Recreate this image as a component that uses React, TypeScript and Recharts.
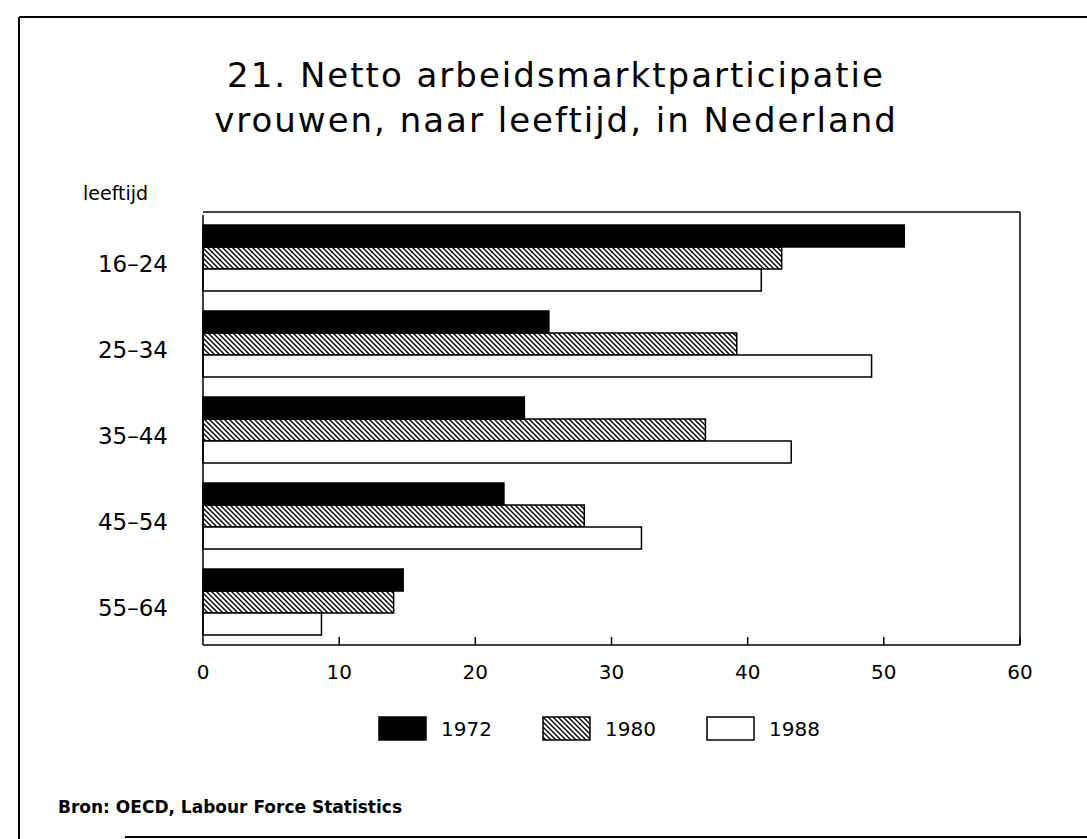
import React from 'react';
import { BarChart, Bar, XAxis, YAxis, Legend } from 'recharts';

const ageGroups = ['16–24', '25–34', '35–44', '45–54', '55–64'];
const years = ['1972', '1980', '1988'];
const values1972 = [51.5, 25.4, 23.6, 22.1, 14.7];
const values1980 = [42.5, 39.2, 36.9, 28.0, 14.0];
const values1988 = [41.0, 49.1, 43.2, 32.2, 8.7];
const xTicks = [0, 10, 20, 30, 40, 50, 60];

const chartData = ageGroups.map((age, i) => ({
  age,
  y1972: values1972[i],
  y1980: values1980[i],
  y1988: values1988[i],
}));

const FONT = '"DejaVu Sans", sans-serif';
const fills = ['#000', 'url(#hatch)', '#fff'];

const AgeTick = (props: any) => {
  const { x, y, payload } = props;
  return (
    <text x={x - 35} y={y + 14} textAnchor="end" fontFamily={FONT} fontSize={23} fill="#000">
      {payload.value}
    </text>
  );
};

const ValueTick = (props: any) => {
  const { x, y, payload } = props;
  return (
    <g>
      {payload.value > 0 && <line x1={x} y1={y} x2={x} y2={y - 8} stroke="#000" strokeWidth={1.5} />}
      <text x={x} y={y + 34} textAnchor="middle" fontFamily={FONT} fontSize={20} fill="#000">
        {payload.value}
      </text>
    </g>
  );
};

const LegendContent = () => (
  <div style={{ display: 'flex', fontFamily: FONT, fontSize: 20 }}>
    {years.map((year, i) => (
      <div key={year} style={{ width: 164, display: 'flex', alignItems: 'center' }}>
        <svg width={50} height={26} style={{ marginRight: 13 }}>
          <rect x={1} y={1} width={47} height={23} fill={fills[i]} stroke="#000" strokeWidth={1.5} />
        </svg>
        <span style={{ color: '#000' }}>{year}</span>
      </div>
    ))}
  </div>
);

export default function App() {
  return (
    <div style={{ position: 'absolute', left: 0, top: 0, width: 1087, height: 839, overflow: 'hidden', background: '#fff' }}>
      <svg width={0} height={0} style={{ position: 'absolute' }}>
        <defs>
          <pattern id="hatch" patternUnits="userSpaceOnUse" width={5} height={5}>
            <path d="M0,0 L5,5 M-1,4 L1,6 M4,-1 L6,1" stroke="#000" strokeWidth={1.4} />
          </pattern>
        </defs>
      </svg>
      <BarChart
        width={1087}
        height={839}
        data={chartData}
        layout="vertical"
        margin={{ top: 215, right: 67, bottom: 154, left: 123 }}
        barGap={0}
        barSize={22}
      >
        <XAxis
          type="number"
          domain={[0, 60]}
          ticks={xTicks}
          height={40}
          axisLine={{ stroke: '#000', strokeWidth: 1.5 }}
          tickLine={false}
          tickSize={0}
          tickMargin={0}
          tick={<ValueTick />}
        />
        <YAxis
          type="category"
          dataKey="age"
          width={80}
          interval={0}
          axisLine={{ stroke: '#000', strokeWidth: 1.5 }}
          tickLine={false}
          tickSize={0}
          tickMargin={0}
          tick={<AgeTick />}
        />
        <Legend
          verticalAlign="middle"
          align="center"
          content={<LegendContent />}
          wrapperStyle={{ position: 'absolute', left: 378, top: 716, width: 500, height: 28 }}
        />
        <Bar dataKey="y1972" name="1972" fill={fills[0]} stroke="#000" strokeWidth={1.5} isAnimationActive={false} />
        <Bar dataKey="y1980" name="1980" fill={fills[1]} stroke="#000" strokeWidth={1.5} isAnimationActive={false} />
        <Bar dataKey="y1988" name="1988" fill={fills[2]} stroke="#000" strokeWidth={1.5} isAnimationActive={false} />
      </BarChart>
      <svg width={1087} height={839} style={{ position: 'absolute', left: 0, top: 0, pointerEvents: 'none' }}>
        <line x1={19} y1={17} x2={1087} y2={17} stroke="#000" strokeWidth={2} />
        <line x1={19} y1={17} x2={19} y2={839} stroke="#000" strokeWidth={2} />
        <line x1={125} y1={837} x2={1087} y2={837} stroke="#000" strokeWidth={2} />
        <line x1={203} y1={212} x2={1020} y2={212} stroke="#000" strokeWidth={1.5} />
        <line x1={1020} y1={212} x2={1020} y2={645} stroke="#000" strokeWidth={1.5} />
        <text x={556} y={87} textAnchor="middle" fontFamily={FONT} fontSize={34} letterSpacing={2} fill="#000">
          21. Netto arbeidsmarktparticipatie
        </text>
        <text x={556} y={132} textAnchor="middle" fontFamily={FONT} fontSize={34} letterSpacing={2} fill="#000">
          vrouwen, naar leeftijd, in Nederland
        </text>
        <text x={83} y={200} fontFamily={FONT} fontSize={19} fill="#000">leeftijd</text>
        <text x={58} y={813} fontFamily={FONT} fontSize={17} fontWeight="bold" fill="#000">
          Bron: OECD, Labour Force Statistics
        </text>
      </svg>
    </div>
  );
}
